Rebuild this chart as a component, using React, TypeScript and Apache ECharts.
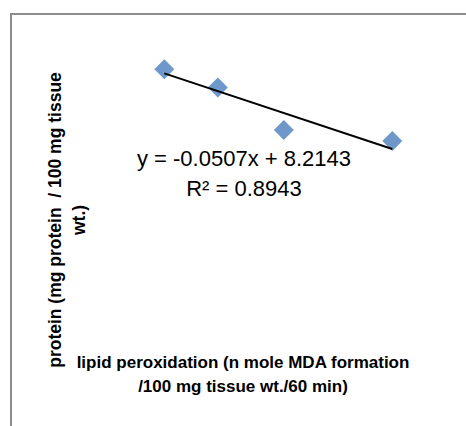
import React, { useEffect, useRef } from "react";
import * as echarts from "echarts";

const lipidPeroxidation = [22.5, 33.2, 46.4, 68.1];
const protein = [7.2, 6.64, 5.34, 5.01];
const slope = -0.0507;
const intercept = 8.2143;
const rSquared = "0.8943";
const xAxisTitle = "lipid peroxidation (n mole MDA formation\n/100 mg tissue wt./60 min)";
const yAxisTitle = "protein (mg protein  / 100 mg tissue\nwt.)";

export default function App() {
  const ref = useRef<HTMLDivElement>(null);
  useEffect(() => {
    if (!ref.current) return;
    const chart = echarts.init(ref.current, null, { renderer: "svg" });
    const xMin = Math.min(...lipidPeroxidation);
    const xMax = Math.max(...lipidPeroxidation);
    const trend = [
      [xMin, slope * xMin + intercept],
      [xMax, slope * xMax + intercept],
    ];
    const points = lipidPeroxidation.map((x, i) => [x, protein[i]]);
    chart.setOption({
      animation: false,
      backgroundColor: "#ffffff",
      grid: { left: 51.8, right: 14.2, top: 43, bottom: 121.1 },
      xAxis: {
        type: "value",
        min: 0,
        max: 80,
        axisLine: { show: false },
        axisTick: { show: false },
        axisLabel: { show: false },
        splitLine: { show: false },
      },
      yAxis: {
        type: "value",
        min: 0,
        max: 8,
        axisLine: { show: false },
        axisTick: { show: false },
        axisLabel: { show: false },
        splitLine: { show: false },
      },
      series: [
        {
          type: "scatter",
          data: points,
          symbol: "diamond",
          symbolSize: 20,
          itemStyle: { color: "#4a7ebb" },
          z: 2,
        },
        {
          type: "line",
          data: trend,
          symbol: "none",
          lineStyle: { color: "#000000", width: 2 },
          z: 3,
        },
      ],
      graphic: [
        {
          type: "rect",
          shape: { x: 11, y: 14, width: 500, height: 500 },
          style: { fill: "none", stroke: "#8c8c8c", lineWidth: 2 },
          silent: true,
          z: -1,
        },
        {
          type: "text",
          x: 244,
          y: 173,
          style: {
            text: "y = " + slope + "x + " + intercept + "\nR² = " + rSquared,
            font: "22px 'Liberation Sans', Arial, sans-serif",
            fill: "#000000",
            textAlign: "center",
            textVerticalAlign: "middle",
            lineHeight: 30,
          },
        },
        {
          type: "text",
          x: 243,
          y: 374,
          style: {
            text: xAxisTitle,
            font: "bold 17px 'Liberation Sans', Arial, sans-serif",
            fill: "#000000",
            textAlign: "center",
            textVerticalAlign: "middle",
            lineHeight: 24,
          },
        },
        {
          type: "text",
          x: 67,
          y: 220,
          rotation: Math.PI / 2,
          style: {
            text: yAxisTitle,
            font: "bold 17.5px 'Liberation Sans', Arial, sans-serif",
            fill: "#000000",
            textAlign: "center",
            textVerticalAlign: "middle",
            lineHeight: 24,
          },
        },
      ],
    });
    return () => chart.dispose();
  }, []);
  return (
    <div
      ref={ref}
      style={{ position: "fixed", left: 0, top: 0, width: 466, height: 426 }}
    />
  );
}
